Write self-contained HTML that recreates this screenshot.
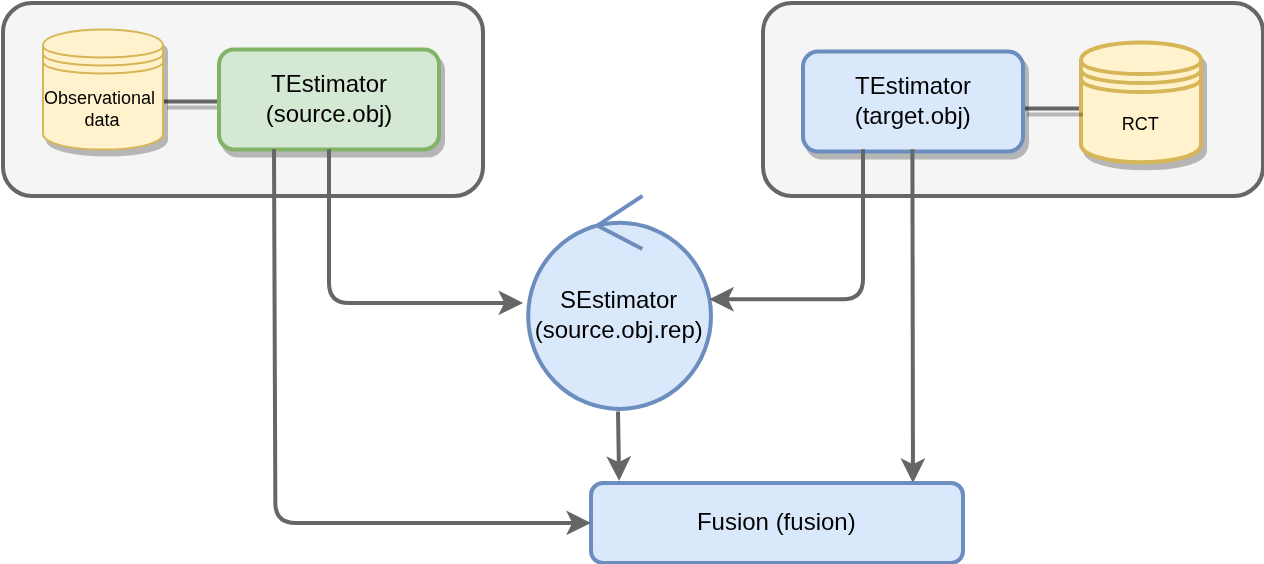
<!DOCTYPE html>
<html>
<head>
<meta charset="utf-8">
<style>
html,body{margin:0;padding:0;background:#ffffff;}
body{width:1264px;height:564px;overflow:hidden;}
svg{display:block;will-change:transform;}
text{font-family:"Liberation Sans",sans-serif;fill:#000000;}
</style>
</head>
<body>
<svg width="1264" height="564" viewBox="0 0 1264 564">
<!-- containers -->
<rect x="3" y="3" width="480" height="193" rx="28.95" ry="28.95" fill="#f5f5f5" stroke="#666666" stroke-width="4"/>
<rect x="763" y="3" width="500" height="193" rx="28.95" ry="28.95" fill="#f5f5f5" stroke="#666666" stroke-width="4"/>

<!-- E1 obs - green line (behind shapes) -->
<path d="M 163 101.4 L 219 101.4" fill="none" stroke="#000" stroke-opacity="0.25" stroke-width="4" transform="translate(4,6)"/>
<path d="M 163 101.4 L 219 101.4" fill="none" stroke="#666666" stroke-width="4"/>

<!-- Observational data cylinder -->
<path d="M 43 45.6 C 43 24.27 163 24.27 163 45.6 L 163 133.6 C 163 154.93 43 154.93 43 133.6 Z" fill="#000" stroke="#000" stroke-width="2" opacity="0.25" transform="translate(4,6)"/>
<path d="M 43 45.6 C 43 24.27 163 24.27 163 45.6 L 163 133.6 C 163 154.93 43 154.93 43 133.6 Z" fill="#fff2cc" stroke="#d6b656" stroke-width="2"/>
<path d="M 43 45.6 C 43 61.6 163 61.6 163 45.6 M 43 53.6 C 43 69.6 163 69.6 163 53.6 M 43 61.6 C 43 77.6 163 77.6 163 61.6" fill="none" stroke="#d6b656" stroke-width="2"/>
<text x="99.5" y="103.8" font-size="18" text-anchor="middle">Observational</text>
<text x="102" y="125.6" font-size="18" text-anchor="middle">data</text>

<!-- green TEstimator -->
<rect x="219" y="49.4" width="220" height="100" rx="15" ry="15" fill="#000" stroke="#000" stroke-width="4" opacity="0.25" transform="translate(4,6)"/>
<rect x="219" y="49.4" width="220" height="100" rx="15" ry="15" fill="#d5e8d4" stroke="#82b366" stroke-width="4"/>
<text x="329" y="92.1" font-size="24" text-anchor="middle">TEstimator</text>
<text x="329" y="121.5" font-size="24" text-anchor="middle">(source.obj)</text>

<!-- RCT cylinder -->
<path d="M 1081 60.5 C 1081 36.5 1201 36.5 1201 60.5 L 1201 144.2 C 1201 168.2 1081 168.2 1081 144.2 Z" fill="#000" stroke="#000" stroke-width="4" opacity="0.25" transform="translate(4,6)"/>
<path d="M 1081 60.5 C 1081 36.5 1201 36.5 1201 60.5 L 1201 144.2 C 1201 168.2 1081 168.2 1081 144.2 Z" fill="#fff2cc" stroke="#d6b656" stroke-width="4"/>
<path d="M 1081 60.5 C 1081 78.5 1201 78.5 1201 60.5 M 1081 69.5 C 1081 87.5 1201 87.5 1201 69.5 M 1081 78.5 C 1081 96.5 1201 96.5 1201 78.5" fill="none" stroke="#d6b656" stroke-width="4"/>
<text x="1140.2" y="130" font-size="18" text-anchor="middle">RCT</text>

<!-- E7 blue - RCT line -->
<path d="M 1023 108.6 L 1079 108.6" fill="none" stroke="#000" stroke-opacity="0.25" stroke-width="4" transform="translate(4,6)"/>
<path d="M 1023 108.6 L 1079 108.6" fill="none" stroke="#666666" stroke-width="4"/>

<!-- blue TEstimator -->
<rect x="803" y="51.6" width="220" height="100" rx="15" ry="15" fill="#000" stroke="#000" stroke-width="4" opacity="0.25" transform="translate(4,6)"/>
<rect x="803" y="51.6" width="220" height="100" rx="15" ry="15" fill="#dae8fc" stroke="#6c8ebf" stroke-width="4"/>
<text x="913.1" y="94.4" font-size="24" text-anchor="middle">TEstimator</text>
<text x="912.7" y="124.4" font-size="24" text-anchor="middle">(target.obj)</text>

<!-- Fusion -->
<rect x="591" y="483" width="372" height="80" rx="12" ry="12" fill="#dae8fc" stroke="#6c8ebf" stroke-width="4"/>
<text x="776.3" y="530.2" font-size="24" text-anchor="middle">Fusion (fusion)</text>

<!-- SEstimator control -->
<ellipse cx="619.6" cy="315.9" rx="91.4" ry="93.1" fill="#dae8fc" stroke="#6c8ebf" stroke-width="4"/>
<path d="M 597.3 225.6 L 642.5 195.8 M 597.3 225.6 L 642.4 249.1" fill="none" stroke="#6c8ebf" stroke-width="4"/>
<text x="618.6" y="307.7" font-size="24" text-anchor="middle">SEstimator</text>
<text x="618.7" y="338.1" font-size="24" text-anchor="middle">(source.obj.rep)</text>
<!-- edges with arrows -->
<g fill="none" stroke="#666666" stroke-width="4" stroke-miterlimit="10">
<path d="M 274 149.3 L 275.33 502.9 Q 275.4 522.9 295.4 522.9 L 574.53 522.9"/>
<path d="M 329 149.3 L 329 282.9 Q 329 302.9 349 302.9 L 506.63 302.9"/>
<path d="M 863 149.2 L 863 279.3 Q 863 299.3 843 299.3 L 725.67 299.3"/>
<path d="M 912.4 149.2 L 912.97 466.53"/>
<path d="M 618.01 411.5 L 618.84 464.43"/>
</g>
<g fill="#666666" stroke="#666666" stroke-width="4" stroke-miterlimit="10">
<path d="M 586.53 522.9 L 570.53 530.9 L 574.53 522.9 L 570.53 514.9 Z"/>
<path d="M 518.63 302.9 L 502.63 310.9 L 506.63 302.9 L 502.63 294.9 Z"/>
<path d="M 713.67 299.3 L 729.67 291.3 L 725.67 299.3 L 729.67 307.3 Z"/>
<path d="M 912.99 478.53 L 904.96 462.54 L 912.97 466.53 L 920.96 462.51 Z"/>
<path d="M 619.03 476.43 L 610.78 460.56 L 618.84 464.43 L 626.78 460.3 Z"/>
</g>
<!-- fusion top stroke over arrow tips -->
<path d="M 603 483 L 951 483" fill="none" stroke="#6c8ebf" stroke-width="4"/>

</svg>
</body>
</html>
